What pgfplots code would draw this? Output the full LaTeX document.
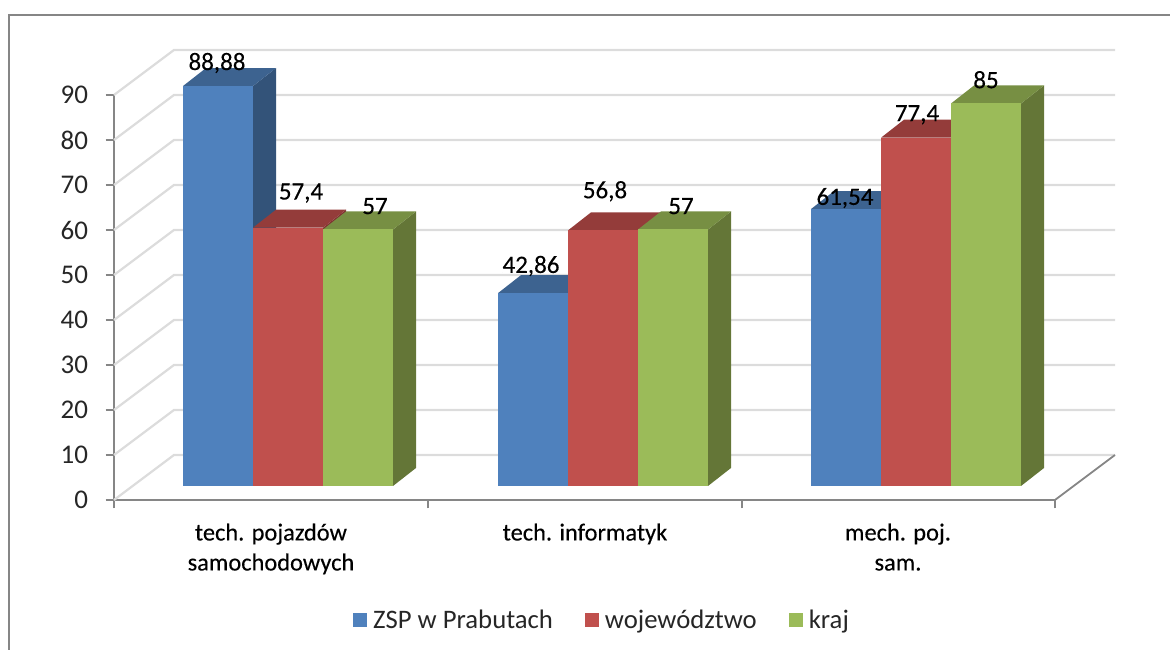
\documentclass[border=0pt]{standalone}
\usepackage{fontspec}
\setmainfont{Carlito}
\newfontfamily\hv[FakeBold=0.25]{Carlito}
\usepackage{pgfplots}
\pgfplotsset{compat=1.18}
\definecolor{bF}{HTML}{4F81BD}\definecolor{bT}{HTML}{3D6390}\definecolor{bS}{HTML}{335379}
\definecolor{rF}{HTML}{C0504D}\definecolor{rT}{HTML}{943C3A}\definecolor{rS}{HTML}{7F3331}
\definecolor{gF}{HTML}{9BBB59}\definecolor{gT}{HTML}{778F43}\definecolor{gS}{HTML}{647637}
\definecolor{gridc}{HTML}{DCDCDC}\definecolor{axc}{HTML}{868686}
\newcommand\tdbar[3]{%
 \pgfmathsetmacro\xa{#1}\pgfmathsetmacro\xb{#1+70}\pgfmathsetmacro\xc{#1+93}\pgfmathsetmacro\xd{#1+23}%
 \pgfmathsetmacro\ya{#2+3.11}\pgfmathsetmacro\yb{#2+7.11}%
 \edef\temp{%
 \noexpand\addplot[fill=#3S,draw=none,forget plot] coordinates {(\xb,3.11) (\xc,7.11) (\xc,\yb) (\xb,\ya)} --cycle;
 \noexpand\addplot[fill=#3T,draw=none,forget plot] coordinates {(\xa,\ya) (\xb,\ya) (\xc,\yb) (\xd,\yb)} --cycle;
 \noexpand\addplot[fill=#3F,draw=none,forget plot] coordinates {(\xa,3.11) (\xb,3.11) (\xb,\ya) (\xa,\ya)} --cycle;
 }\temp}
\begin{document}
\begin{tikzpicture}
\begin{axis}[
 scale only axis, width=941bp, height=405bp,
 xmin=114, xmax=1055, ymin=0, ymax=90, clip=false,
 axis x line*=bottom, axis y line*=left,
 axis line style={axc,line width=2.2bp},
 /pgf/number format/assume math mode=true,
 ytick={0,10,...,90},
 xtick={114,428,742,1055}, xticklabels={},
 tick style={axc,line width=1.8bp},
 major tick length=8.5bp,
 tick align=outside,
 ticklabel style={font=\fontsize{27bp}{30bp}\selectfont,color=black!85},
 yticklabel style={xshift=-14bp,yshift=0bp},
 extra x ticks={271,585,898},
 extra x tick labels={{tech. pojazdów\\samochodowych},{tech. informatyk},{mech. poj.\\sam.}},
 extra x tick style={major tick length=0pt,
   xticklabel style={font=\hv\fontsize{24.4bp}{30bp}\selectfont,align=center,anchor=north,yshift=-20bp,color=black}},
 legend columns=3,
 legend cell align=left,
 legend style={at={(axis cs:602,-26.67)},anchor=center,draw=none,fill=none,
   font=\fontsize{26.7bp}{30bp}\selectfont,text=black!85,
   /tikz/every even column/.append style={column sep=30bp}},
 legend image code/.code={\fill[#1,draw=none] (0bp,-7bp) rectangle (14bp,7bp);\path[draw=none,fill=none] (0bp,0bp) (18bp,0bp);},
]
% outer frame
\addplot[axc,line width=2.2bp,forget plot] coordinates {(9,-33.33) (9,107.8) (1170,107.8)};
% walls and floor
\addplot[gridc,line width=2.2bp,forget plot] coordinates {(114,0) (174,10) (1115,10)};
\addplot[gridc,line width=2.2bp,forget plot] coordinates {(114,10) (174,20) (1115,20)};
\addplot[gridc,line width=2.2bp,forget plot] coordinates {(114,20) (174,30) (1115,30)};
\addplot[gridc,line width=2.2bp,forget plot] coordinates {(114,30) (174,40) (1115,40)};
\addplot[gridc,line width=2.2bp,forget plot] coordinates {(114,40) (174,50) (1115,50)};
\addplot[gridc,line width=2.2bp,forget plot] coordinates {(114,50) (174,60) (1115,60)};
\addplot[gridc,line width=2.2bp,forget plot] coordinates {(114,60) (174,70) (1115,70)};
\addplot[gridc,line width=2.2bp,forget plot] coordinates {(114,70) (174,80) (1115,80)};
\addplot[gridc,line width=2.2bp,forget plot] coordinates {(114,80) (174,90) (1115,90)};
\addplot[gridc,line width=2.2bp,forget plot] coordinates {(114,90) (174,100) (1115,100)};
\addplot[axc,line width=1.8bp,forget plot] coordinates {(1055,0) (1115,10)};
% bars
\tdbar{183}{88.88}{b}\tdbar{253}{57.4}{r}\tdbar{323}{57}{g}
\tdbar{498}{42.86}{b}\tdbar{568}{56.8}{r}\tdbar{638}{57}{g}
\tdbar{811}{61.54}{b}\tdbar{881}{77.4}{r}\tdbar{951}{85}{g}
% data labels
\addplot[draw=none,forget plot,
  nodes near coords, point meta=explicit symbolic,
  every node near coord/.style={anchor=center,inner sep=0pt,font=\hv\fontsize{25bp}{28bp}\selectfont,color=black}]
 table[meta=lab,col sep=space] {
 x y lab
 217 97.1 88,88
 301 68.2 57,4
 375 65.3 57
 531 52.0 42,86
 605 68.6 56,8
 681 65.3 57
 845 67.1 61,54
 917 85.6 77,4
 986 93.4 85
 };
% legend
\addlegendimage{bF}\addlegendentry{ZSP w Prabutach}
\addlegendimage{rF}\addlegendentry{województwo}
\addlegendimage{gF}\addlegendentry{kraj}
\coordinate (bbA) at (axis cs:0,-33.33);
\coordinate (bbB) at (axis cs:1170,111.11);
\end{axis}
\pgfresetboundingbox
\useasboundingbox (bbA) rectangle (bbB);
\end{tikzpicture}
\end{document}
